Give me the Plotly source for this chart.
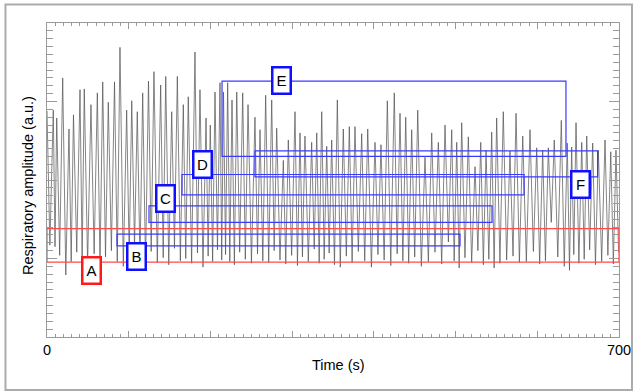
import plotly.graph_objects as go

# ---- respiratory trace: peaks and troughs (time in s, amplitude in a.u.)
start_t = 0.0
start_v = 28.8

peak_t = [7.7, 11.9, 19.2, 26.9, 32.4, 40.4, 45.6, 53.8, 61.6, 68.2,
          75.0, 82.6, 89.3, 97.5, 103.7, 110.5, 117.1, 124.2, 130.9, 139.1,
          145.3, 152.6, 159.5, 166.8, 172.9, 181.1, 187.2, 194.6, 199.8, 205.6,
          211.7, 216.0, 221.1, 226.4, 232.2, 239.5, 246.0, 254.5, 260.7, 267.6,
          275.0, 281.1, 289.2, 295.3, 303.5, 309.6, 315.7, 323.9, 330.1, 336.2,
          342.3, 348.4, 355.3, 362.6, 370.0, 376.9, 385.1, 392.5, 401.4, 408.7,
          416.5, 425.0, 432.0, 439.0, 446.3, 453.7, 462.6, 470.8, 478.9, 487.1,
          495.3, 501.4, 507.5, 515.6, 523.8, 530.8, 537.3, 544.2, 550.3, 558.4,
          566.6, 574.0, 582.2, 591.1, 599.3, 606.6, 613.5, 620.8, 629.4, 636.7,
          642.1, 647.4, 654.4, 660.5, 667.8, 674.7, 682.9, 689.9, 696.3]

peak_v = [28.9, 27.9, 33.0, 26.5, 28.3, 31.5, 31.6, 29.6, 31.1, 32.5,
          29.9, 32.5, 36.9, 28.9, 30.1, 28.7, 31.1, 32.6, 33.8, 32.1,
          33.2, 28.7, 33.2, 29.6, 30.6, 36.3, 31.5, 27.9, 27.0, 31.2,
          32.4, 31.2, 32.4, 30.2, 31.2, 31.1, 29.6, 28.0, 26.4, 30.8,
          30.2, 26.6, 22.5, 25.1, 28.7, 26.0, 25.6, 24.8, 26.0, 28.7,
          24.3, 25.1, 30.2, 26.5, 26.8, 26.8, 25.9, 26.5, 24.8, 24.5,
          30.1, 31.1, 28.5, 28.0, 26.4, 28.9, 22.9, 26.0, 24.8, 27.0,
          26.4, 24.8, 27.3, 25.5, 21.7, 24.8, 23.8, 26.1, 27.9, 28.7,
          23.7, 28.5, 25.6, 26.4, 24.1, 23.8, 24.1, 25.1, 27.6, 24.7,
          24.2, 27.3, 24.8, 25.6, 24.7, 23.8, 25.1, 23.6, 23.8]

trough_t = [3.5, 9.8, 15.5, 23.0, 29.6, 36.4, 43.0, 49.7, 57.7, 64.9,
            71.6, 78.8, 86.0, 93.4, 100.6, 107.1, 113.8, 120.6, 127.5, 135.0,
            142.2, 149.0, 156.0, 163.2, 169.8, 177.0, 184.1, 190.9, 197.2, 202.7,
            208.6, 213.8, 218.5, 223.7, 229.3, 235.8, 242.7, 250.2, 257.6, 264.1,
            271.3, 278.0, 285.1, 292.2, 299.4, 306.5, 312.6, 319.8, 327.0, 333.1,
            339.2, 345.3, 351.8, 358.9, 366.3, 373.4, 381.0, 388.8, 397.0, 405.0,
            412.6, 420.7, 428.5, 435.5, 442.6, 450.0, 458.1, 466.7, 474.8, 483.0,
            491.2, 498.3, 504.4, 511.5, 519.7, 527.3, 534.0, 540.7, 547.2, 554.3,
            562.5, 570.3, 578.1, 586.6, 595.2, 602.9, 610.0, 617.1, 625.1, 633.0,
            639.4, 644.7, 650.9, 657.4, 664.1, 671.2, 678.8, 686.4, 693.1, 699.5]

trough_v = [11.7, 11.5, 10.4, 7.9, 9.6, 10.8, 9.9, 9.4, 10.6, 9.1,
            10.2, 11.0, 9.6, 9.0, 10.4, 11.6, 9.8, 9.3, 10.9, 9.5,
            10.1, 9.2, 11.3, 9.7, 10.0, 9.4, 10.7, 8.9, 10.3, 9.6,
            11.1, 9.8, 10.5, 9.6, 9.2, 10.8, 9.9, 9.4, 10.6, 9.7,
            9.5, 11.0, 9.8, 9.3, 10.4, 9.1, 10.2, 9.6, 11.2, 9.4,
            9.9, 10.7, 9.2, 8.9, 10.3, 9.5, 10.9, 9.7, 8.9, 10.5,
            9.8, 9.1, 10.6, 9.7, 9.4, 10.2, 9.0, 9.6, 10.8, 9.3,
            12.1, 9.7, 8.8, 10.1, 9.5, 11.0, 9.2, 9.9, 8.8, 9.4,
            9.8, 10.3, 9.5, 9.6, 10.9, 9.3, 9.7, 14.6, 10.2, 9.0,
            8.5, 10.5, 9.4, 9.9, 11.1, 9.2, 9.6, 10.4, 9.3, 10.8]

# ---- analysis windows
window_labels = ["B", "C", "D", "E", "F"]
window_start = [85.7, 124.8, 165.2, 214.2, 254.5]
window_end = [505.4, 544.6, 583.8, 635.1, 673.8]
window_low = [11.6, 14.6, 18.1, 23.0, 20.4]
window_high = [13.1, 16.7, 20.7, 32.6, 23.7]

full_label = "A"
full_start = 0
full_end = 700
full_low = 9.55
full_high = 13.8

x_ticks = [0, 100, 200, 300, 400, 500, 600, 700]
x_ticktext = ["0", "", "", "", "", "", "", "700"]

# ---- build trace
xs = [start_t]
ys = [start_v]
for i in range(len(peak_t)):
    xs += [trough_t[i], peak_t[i]]
    ys += [trough_v[i], peak_v[i]]
xs.append(trough_t[-1])
ys.append(trough_v[-1])

fig = go.Figure()
fig.add_trace(go.Scatter(x=xs, y=ys, mode="lines",
                         line=dict(color="#505050", width=0.7),
                         hoverinfo="skip"))

BLUE_LINE = "#3a3aff"
BLUE_BOX = "#1010ff"
RED_LINE = "#ff4a4a"
RED_BOX = "#ff1a1a"

shapes = []
shapes.append(dict(type="rect", xref="x", yref="y", x0=full_start, x1=full_end,
                   y0=full_low, y1=full_high, line=dict(color=RED_LINE, width=1.2)))
for i in range(len(window_labels)):
    shapes.append(dict(type="rect", xref="x", yref="y",
                       x0=window_start[i], x1=window_end[i],
                       y0=window_low[i], y1=window_high[i],
                       line=dict(color=BLUE_LINE, width=1.2)))
# outer grey frame of the picture
shapes.append(dict(type="rect", xref="paper", yref="paper",
                   x0=-0.0726, x1=1.0227, y0=-0.1688, y1=1.0589,
                   line=dict(color="#ababab", width=2)))

# label positions (data coords)
label_pos = {"A": (55, 8.5), "B": (110, 10.3), "C": (144.4, 17.6),
             "D": (189.7, 22.0), "E": (286.4, 32.7), "F": (652.3, 19.4)}

annotations = []
for lab in [full_label] + window_labels:
    lx, ly = label_pos[lab]
    annotations.append(dict(x=lx, y=ly, xref="x", yref="y", text=lab, showarrow=False,
                            font=dict(size=15, color="black"),
                            bgcolor="white", bordercolor=RED_BOX if lab == "A" else BLUE_BOX,
                            borderwidth=2.5, borderpad=2, width=12, height=20))

annotations.append(dict(x=-0.0332, y=0.481, xref="paper", yref="paper",
                        xanchor="center", yanchor="middle",
                        text="Respiratory amplitude (a.u.)", textangle=-90,
                        showarrow=False, font=dict(size=14.5, color="black")))
annotations.append(dict(x=0.5096, y=-0.089, xref="paper", yref="paper",
                        xanchor="center", yanchor="middle",
                        text="Time (s)", showarrow=False,
                        font=dict(size=14.5, color="black")))

fig.update_layout(
    width=637, height=392,
    margin=dict(l=47, r=18, t=23, b=55, autoexpand=False),
    plot_bgcolor="white", paper_bgcolor="white",
    showlegend=False,
    font=dict(family="Liberation Sans, Arial, sans-serif", size=14.5, color="black"),
    shapes=shapes, annotations=annotations,
)
fig.update_xaxes(range=[0, 700], showgrid=False, zeroline=False, automargin=False,
                 showline=True, linecolor="#9a9a9a", linewidth=1, mirror="ticks",
                 ticks="inside", ticklen=6, tickcolor="#9a9a9a",
                 tickmode="array", tickvals=x_ticks, ticktext=x_ticktext,
                 minor=dict(ticks="inside", ticklen=3, dtick=10, tick0=0,
                            tickcolor="#9a9a9a", showgrid=False))
fig.update_yaxes(range=[0, 40], showgrid=False, zeroline=False, automargin=False,
                 showline=True, linecolor="#9a9a9a", linewidth=1, mirror="ticks",
                 ticks="inside", ticklen=10, tickcolor="#9a9a9a", dtick=10, tick0=0,
                 showticklabels=False,
                 minor=dict(ticks="inside", ticklen=6, dtick=1, tick0=0,
                            tickcolor="#9a9a9a", showgrid=False))

fig.write_html("out.html", config={"displayModeBar": False},
               post_script="document.body.style.margin='0px';document.body.style.overflow='hidden';")
